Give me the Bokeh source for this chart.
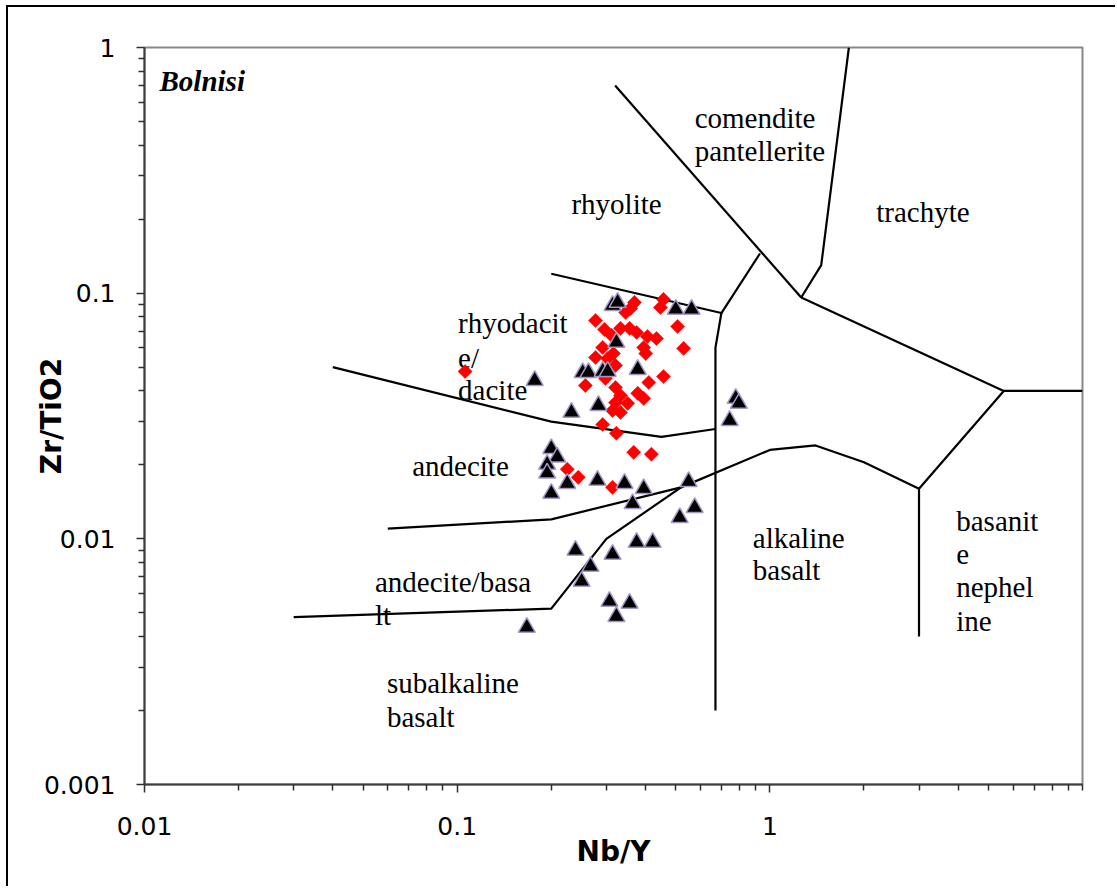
from bokeh.plotting import figure
from bokeh.models import FixedTicker, CustomJSTickFormatter
from bokeh.core.properties import value
from bokeh.embed import file_html
from bokeh.resources import INLINE

# ---- sample data: Nb/Y (x) vs Zr/TiO2 (y) ----
tri_nby = [0.314, 0.326, 0.500, 0.562, 0.323, 0.252, 0.263, 0.292, 0.303, 0.378,
           0.177, 0.232, 0.283, 0.778, 0.796, 0.744, 0.200, 0.209, 0.194, 0.194,
           0.225, 0.200, 0.281, 0.343, 0.395, 0.364, 0.550, 0.575, 0.515, 0.239,
           0.267, 0.250, 0.314, 0.375, 0.422, 0.307, 0.356, 0.323, 0.167]
tri_zrti = [0.0891, 0.0917, 0.0859, 0.0859, 0.0630, 0.0475, 0.0475, 0.0480, 0.0480, 0.0489,
            0.0441, 0.0327, 0.0349, 0.0373, 0.0356, 0.0303, 0.0233, 0.0215, 0.0201, 0.0185,
            0.0168, 0.0153, 0.0173, 0.0168, 0.0160, 0.0139, 0.0171, 0.0134, 0.0122, 0.00897,
            0.00772, 0.00671, 0.00864, 0.00967, 0.00967, 0.00556, 0.00546, 0.00483, 0.00436]

dia_nby = [0.106, 0.369, 0.359, 0.346, 0.457, 0.447, 0.277, 0.296, 0.333, 0.356,
           0.375, 0.312, 0.507, 0.406, 0.434, 0.292, 0.395, 0.401, 0.530, 0.277,
           0.316, 0.303, 0.321, 0.257, 0.457, 0.410, 0.321, 0.333, 0.378, 0.395,
           0.321, 0.351, 0.314, 0.333, 0.292, 0.323, 0.367, 0.418, 0.225, 0.244,
           0.314, 0.298]
dia_zrti = [0.0480, 0.0917, 0.0867, 0.0834, 0.0943, 0.0875, 0.0774, 0.0712, 0.0719, 0.0719,
            0.0692, 0.0673, 0.0732, 0.0666, 0.0654, 0.0601, 0.0601, 0.0568, 0.0596, 0.0547,
            0.0568, 0.0542, 0.0508, 0.0421, 0.0458, 0.0433, 0.0413, 0.0383, 0.0391, 0.0373,
            0.0359, 0.0356, 0.0333, 0.0327, 0.0292, 0.0269, 0.0225, 0.0221, 0.0192, 0.0178,
            0.0162, 0.0450]

# ---- field boundaries (Nb/Y, Zr/TiO2 vertices) ----
bound_nby = [
    [0.32, 1.26],
    [1.79, 1.46, 1.26],
    [1.26, 5.6, 10.0],
    [5.6, 3.0, 3.0],
    [0.06, 0.2, 0.52, 1.0, 1.4, 2.0, 3.0],
    [0.03, 0.2, 0.3, 0.52],
    [0.04, 0.2, 0.45, 0.67],
    [0.70, 0.67, 0.67],
    [0.2, 0.70, 0.93],
]
bound_zrti = [
    [0.70, 0.096],
    [1.0, 0.13, 0.096],
    [0.096, 0.040, 0.040],
    [0.040, 0.016, 0.004],
    [0.011, 0.012, 0.0162, 0.023, 0.024, 0.0205, 0.016],
    [0.0048, 0.0052, 0.010, 0.0162],
    [0.050, 0.030, 0.026, 0.028],
    [0.083, 0.060, 0.002],
    [0.12, 0.083, 0.145],
]

# ---- field names ----
label_text = ["comendite", "pantellerite", "rhyolite", "trachyte", "rhyodacit", "e/", "dacite",
              "andecite", "andecite/basa", "lt", "subalkaline", "basalt", "alkaline", "basalt",
              "basanit", "e", "nephel", "ine"]
label_nby = [0.575, 0.575, 0.232, 2.19, 0.1007, 0.1007, 0.1007,
             0.0718, 0.0546, 0.0546, 0.0596, 0.0596, 0.882, 0.882,
             3.946, 3.946, 3.946, 3.946]
label_zrti = [0.5188, 0.3808, 0.2296, 0.2130, 0.0753, 0.0547, 0.0402,
              0.01971, 0.00665, 0.00488, 0.00258, 0.001875, 0.01004, 0.00744,
              0.01177, 0.00864, 0.00634, 0.00461]

title_text = "Bolnisi"
title_pos = (0.01117, 0.7338)
x_ticks = [0.01, 0.1, 1]
y_ticks = [0.001, 0.01, 0.1, 1]

p = figure(width=1109, height=881, x_axis_type="log", y_axis_type="log",
           x_range=(0.01, 10), y_range=(0.001, 1),
           output_backend="svg", toolbar_location=None,
           min_border_left=136, min_border_right=35, min_border_top=40, min_border_bottom=104)
p.styles = {"border-left": "2px solid black", "border-top": "2px solid black",
            "margin-left": "6px", "margin-top": "5px"}
p.background_fill_color = "white"
p.border_fill_color = "white"
p.grid.visible = False
p.outline_line_color = "#888888"
p.outline_line_width = 2

# region labels
p.text(x=label_nby, y=label_zrti, text=label_text, text_font=value("Liberation Serif"),
       text_font_size="29px", text_color="black", text_baseline="alphabetic", text_align="left")
p.text(x=[title_pos[0]], y=[title_pos[1]], text=[title_text], text_font=value("Liberation Serif"),
       text_font_size="29px", text_font_style="bold italic", text_color="black",
       text_baseline="alphabetic", text_align="left")

# boundaries
p.multi_line(xs=bound_nby, ys=bound_zrti, line_color="black", line_width=2.2)

# samples
p.scatter(x=dia_nby, y=dia_zrti, marker="square", angle=0.785398, size=10,
          fill_color="#ff0000", line_color="#ff0000", line_width=0.5)
p.scatter(x=tri_nby, y=tri_zrti, marker="triangle", size=17,
          fill_color="black", line_color="#a597c8", line_width=1.5)

minor_x = [m * 10.0 ** k for k in (-2, -1, 0) for m in range(2, 10)] + [10.0]
minor_y = [m * 10.0 ** k for k in (-3, -2, -1) for m in range(2, 10)]
p.xaxis.ticker = FixedTicker(ticks=x_ticks, minor_ticks=minor_x)
p.yaxis.ticker = FixedTicker(ticks=y_ticks, minor_ticks=minor_y)
fmt = CustomJSTickFormatter(code="return tick.toString();")
p.xaxis.formatter = fmt
p.yaxis.formatter = fmt

for ax in (p.xaxis[0], p.yaxis[0]):
    ax.axis_line_color = "#404040"
    ax.axis_line_width = 2
    ax.major_tick_line_color = "#303030"
    ax.minor_tick_line_color = "#303030"
    ax.major_tick_line_width = 1.5
    ax.minor_tick_line_width = 1.5
    ax.major_tick_in = 0
    ax.minor_tick_in = 0
    ax.major_tick_out = 8
    ax.minor_tick_out = 6
    ax.major_label_text_font = "DejaVu Sans"
    ax.major_label_text_font_size = "25px"
    ax.major_label_text_color = "black"
    ax.axis_label_text_font = "DejaVu Sans"
    ax.axis_label_text_font_size = "28px"
    ax.axis_label_text_font_style = "bold"
    ax.axis_label_text_color = "black"

p.xaxis.major_label_standoff = 24
p.yaxis.major_label_standoff = 21
p.xaxis.axis_label = "Nb/Y"
p.yaxis.axis_label = "Zr/TiO2"
p.xaxis.axis_label_standoff = -3
p.yaxis.axis_label_standoff = -27

open("out.html", "w").write(file_html(p, INLINE))
